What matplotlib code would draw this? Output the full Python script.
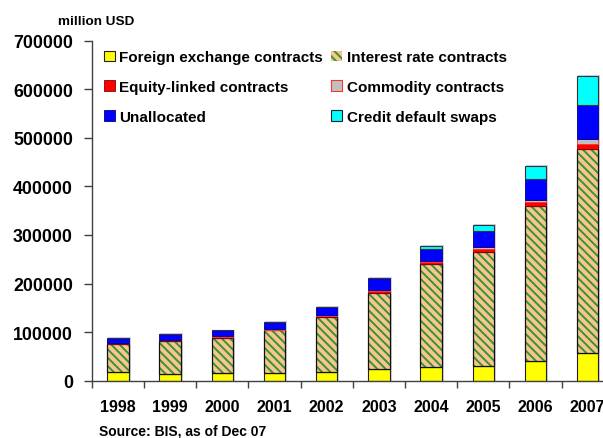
import numpy as np
import matplotlib.pyplot as plt
from matplotlib.patches import Patch

plt.rcParams["font.family"] = ["Liberation Sans", "DejaVu Sans"]
plt.rcParams["font.weight"] = "bold"
plt.rcParams["hatch.linewidth"] = 1.4

years = ["1998", "1999", "2000", "2001", "2002", "2003", "2004", "2005", "2006", "2007"]
fx = [17500, 13500, 15500, 15500, 17500, 24000, 27500, 30000, 40000, 57000]
interest = [58300, 68500, 72000, 88500, 113500, 157000, 213500, 234000, 319000, 421000]
equity = [1000, 1800, 3500, 1000, 2500, 4500, 4000, 8000, 8000, 10000]
commodity = [400, 500, 600, 600, 900, 1400, 1500, 2500, 5000, 9500]
unallocated = [10300, 11700, 11900, 15400, 17100, 24100, 24200, 32700, 42700, 70100]
cds = [0, 0, 0, 0, 0, 0, 7500, 13800, 28300, 59900]

TAN = "#f7c58f"
GREEN = "#379334"
STRIPES = "\\\\\\\\"

fig = plt.figure(figsize=(6.03, 4.39), dpi=100, facecolor="white")
ax = fig.add_axes([0.1521, 0.1305, 0.8657, 0.7745])

x = np.arange(len(years))
w = 0.41

series = [
    (fx, dict(color="#ffff00", edgecolor="#222222", linewidth=0.8)),
    (interest, None),
    (equity, dict(color="#ff0000", edgecolor="#8b0000", linewidth=0.6)),
    (commodity, dict(color="#c0c0c0", edgecolor="#ff3030", linewidth=0.6)),
    (unallocated, dict(color="#0000ff", edgecolor="#000080", linewidth=0.6)),
    (cds, dict(color="#00ffff", edgecolor="#333333", linewidth=0.8)),
]

# soft halo behind each stacked column
totals = np.sum([s[0] for s in series], axis=0)
ax.bar(x + 0.03, totals + 1500, w + 0.02, color="#cfcfe0", linewidth=0, zorder=1)

bottom = np.zeros(len(years))
for vals, style in series:
    if style is None:
        # striped segment: green hatch first, then a plain black outline on top
        ax.bar(x, vals, w, bottom=bottom, zorder=2, facecolor=TAN,
               edgecolor=GREEN, linewidth=0, hatch=STRIPES)
        ax.bar(x, vals, w, bottom=bottom, zorder=2, fill=False,
               edgecolor="#111111", linewidth=0.9)
    else:
        ax.bar(x, vals, w, bottom=bottom, zorder=2, **style)
    bottom += np.array(vals)

ax.set_xlim(-0.5, 9.5)
ax.set_ylim(0, 700000)
ax.set_yticks(np.arange(0, 700001, 100000))
ax.set_yticklabels([str(v) for v in range(0, 700001, 100000)], fontsize=12.8, fontweight="bold")
ax.set_xticks(x)
ax.set_xticklabels(years, fontsize=11.5, fontweight="bold")
ax.set_xticks(np.arange(-0.5, 10, 1), minor=True)
ax.tick_params(axis="x", which="major", length=0, pad=13)
ax.tick_params(axis="x", which="minor", length=5, width=1, color="#404040", direction="out")
ax.tick_params(axis="y", length=5.5, width=1, color="#404040", direction="out", pad=8)

for side in ["top", "right"]:
    ax.spines[side].set_visible(False)
for side in ["left", "bottom"]:
    ax.spines[side].set_color("#404040")
    ax.spines[side].set_linewidth(1)

handles = [
    Patch(facecolor="#ffff00", edgecolor="#222222", linewidth=0.8),
    Patch(facecolor="#ff0000", edgecolor="#8b0000", linewidth=0.6),
    Patch(facecolor="#0000ff", edgecolor="#000080", linewidth=0.6),
    Patch(facecolor=TAN, edgecolor=GREEN, linewidth=0, hatch=STRIPES),
    Patch(facecolor="#c0c0c0", edgecolor="#ff3030", linewidth=0.8),
    Patch(facecolor="#00ffff", edgecolor="#222222", linewidth=0.8),
]
labels = [
    "Foreign exchange contracts",
    "Equity-linked contracts",
    "Unallocated",
    "Interest rate contracts",
    "Commodity contracts",
    "Credit default swaps",
]
ax.legend(handles, labels, ncol=2, loc="upper left",
          bbox_to_anchor=(0.1725, 0.883), bbox_transform=fig.transFigure,
          frameon=False, borderpad=0, borderaxespad=0,
          handlelength=0.7, handleheight=0.7, handletextpad=0.3,
          columnspacing=0.55, labelspacing=1.02,
          prop={"family": "Liberation Sans", "weight": "bold", "size": 11})

fig.text(58.3 / 603, 1 - 25 / 439, "million USD", ha="left", va="baseline",
         fontsize=9.7, fontweight="bold")
fig.text(99.3 / 603, 1 - 436 / 439, "Source: BIS, as of Dec 07", ha="left", va="baseline",
         fontsize=10, fontweight="bold")

fig.savefig("out.png", dpi=100, facecolor="white")
